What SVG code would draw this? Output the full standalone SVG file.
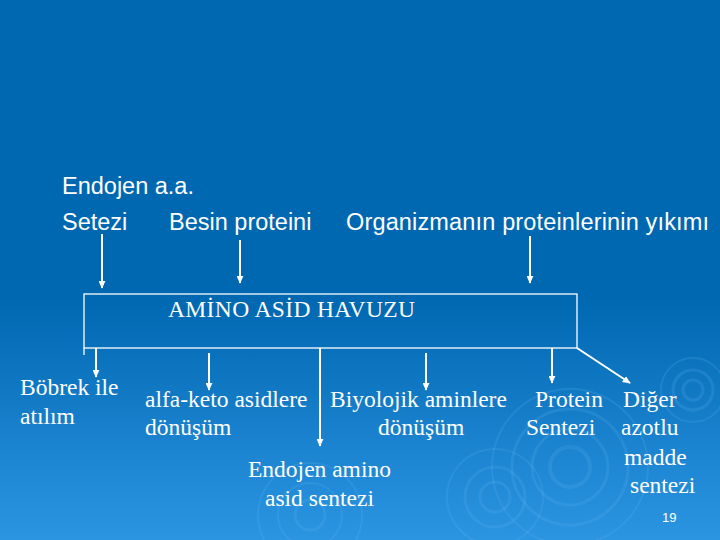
<svg xmlns="http://www.w3.org/2000/svg" width="720" height="540" viewBox="0 0 720 540">
<defs>
<linearGradient id="bg" x1="0" y1="0" x2="0" y2="1">
<stop offset="0" stop-color="#0067B1"/>
<stop offset="0.55" stop-color="#0067B1"/>
<stop offset="1" stop-color="#2C95E2"/>
</linearGradient>
<marker id="ah" viewBox="0 0 10 10" refX="9" refY="5" markerWidth="8" markerHeight="7" orient="auto" markerUnits="userSpaceOnUse" preserveAspectRatio="none">
<path d="M0,0 L10,5 L0,10 z" fill="#ffffff"/>
</marker>
<style>
.sans{font-family:"Liberation Sans",Arial,sans-serif;font-size:23.5px;fill:#ffffff}
.serif{font-family:"Liberation Serif","Times New Roman",serif;font-size:23.5px;fill:#ffffff}
.ln{stroke:#ffffff;stroke-width:2;fill:none}
.thin{stroke:#ffffff;stroke-width:1.3;fill:none}
.rip{fill:none;stroke:#5fb2ef;stroke-opacity:0.2}
</style>
</defs>
<rect x="0" y="0" width="720" height="540" fill="url(#bg)"/>
<g id="ripples">
<circle class="rip" cx="570" cy="467" r="20" stroke-width="4"/>
<circle class="rip" cx="570" cy="467" r="38" stroke-width="3"/>
<circle class="rip" cx="570" cy="467" r="58" stroke-width="3"/>
<circle class="rip" cx="570" cy="467" r="78" stroke-width="2"/>
<circle class="rip" cx="495" cy="497" r="15" stroke-width="3"/>
<circle class="rip" cx="495" cy="497" r="30" stroke-width="3"/>
<circle class="rip" cx="495" cy="497" r="48" stroke-width="2"/>
<circle class="rip" cx="693" cy="390" r="10" stroke-width="3"/>
<circle class="rip" cx="693" cy="390" r="20" stroke-width="3"/>
<circle class="rip" cx="693" cy="390" r="32" stroke-width="2"/>
<circle class="rip" cx="310" cy="515" r="15" stroke-width="3"/>
<circle class="rip" cx="310" cy="515" r="32" stroke-width="2"/>
<circle class="rip" cx="310" cy="515" r="52" stroke-width="2"/>
</g>
<g id="sources">
<text class="sans" x="62" y="194">Endojen a.a.</text>
<text class="sans" x="62" y="230">Setezi</text>
<text class="sans" x="169" y="230">Besin proteini</text>
<text class="sans" x="346" y="230" textLength="363">Organizmanın proteinlerinin yıkımı</text>
</g>
<g id="havuz">
<rect class="thin" x="84" y="294" width="493" height="54"/>
<text class="serif" x="168" y="317" textLength="247">AMİNO ASİD HAVUZU</text>
</g>
<g id="bobrek"><text class="serif" x="20" y="395">Böbrek ile</text><text class="serif" x="20" y="424">atılım</text></g>
<g id="alfaketo"><text class="serif" x="145" y="407">alfa-keto asidlere</text><text class="serif" x="145" y="435">dönüşüm</text></g>
<g id="biyolojik"><text class="serif" x="330" y="407">Biyolojik aminlere</text><text class="serif" x="378" y="435">dönüşüm</text></g>
<g id="endojen"><text class="serif" x="248" y="477">Endojen amino</text><text class="serif" x="265" y="506">asid sentezi</text></g>
<g id="protein"><text class="serif" x="535" y="407">Protein</text><text class="serif" x="526" y="435">Sentezi</text></g>
<g id="diger"><text class="serif" x="623" y="407">Diğer</text><text class="serif" x="621" y="435">azotlu</text><text class="serif" x="624" y="465">madde</text><text class="serif" x="630" y="493">sentezi</text></g>
<g id="connectors">
<line class="ln" x1="102" y1="234" x2="102" y2="288" marker-end="url(#ah)"/>
<line class="ln" x1="240" y1="240" x2="240" y2="283" marker-end="url(#ah)"/>
<line class="ln" x1="530" y1="236" x2="530" y2="283" marker-end="url(#ah)"/>
<line class="thin" x1="84" y1="348" x2="84" y2="355"/>
<line class="ln" x1="96" y1="348" x2="96" y2="377" marker-end="url(#ah)"/>
<line class="ln" x1="209" y1="353" x2="209" y2="390" marker-end="url(#ah)"/>
<line class="ln" x1="320" y1="348" x2="320" y2="446" marker-end="url(#ah)"/>
<line class="ln" x1="426" y1="353" x2="426" y2="390" marker-end="url(#ah)"/>
<line class="ln" x1="552" y1="348" x2="552" y2="383" marker-end="url(#ah)"/>
<line class="ln" x1="577" y1="348" x2="630" y2="383" marker-end="url(#ah)"/>
</g>
<text x="662" y="522" style="font-family:'Liberation Sans',Arial,sans-serif;font-size:13px;fill:#ffffff">19</text>
</svg>
